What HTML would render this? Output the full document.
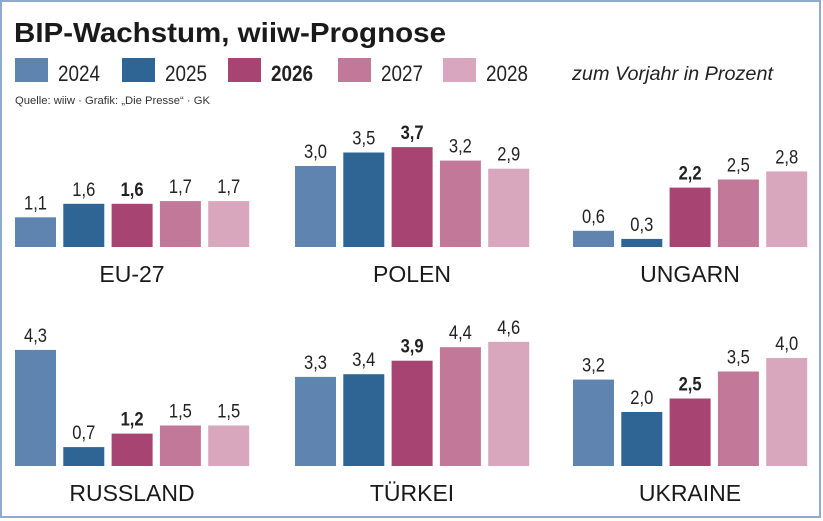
<!DOCTYPE html>
<html><head><meta charset="utf-8"><style>
html,body{margin:0;padding:0;background:#fff}
svg{display:block}
.n{font-family:"Liberation Sans Narrow","Liberation Sans",sans-serif}
</style></head><body>
<svg id="s" width="823" height="521" xmlns="http://www.w3.org/2000/svg">
<rect x="1" y="1" width="819" height="516" fill="#fff" stroke="#8eaad0" stroke-width="2"/>
<text x="14" y="42" font-family="Liberation Sans,sans-serif" font-weight="bold" font-size="28" fill="#1a1a1a" textLength="432" lengthAdjust="spacingAndGlyphs">BIP-Wachstum, wiiw-Prognose</text>
<text x="15" y="104" class="n" font-size="11" fill="#333" textLength="195" lengthAdjust="spacingAndGlyphs">Quelle: wiiw · Grafik: „Die Presse“ · GK</text>
<text x="572" y="80" class="n" font-style="italic" font-size="19" fill="#222" textLength="201" lengthAdjust="spacingAndGlyphs">zum Vorjahr in Prozent</text>
<g id="g"></g>
</svg>
<script>
const C=["#5f84b0","#2f6595","#a84472","#c17899","#d8a6bd"];
const Y=["2024","2025","2026","2027","2028"];
const LX=[15,122,228,338,443];
let h="";
for(let i=0;i<5;i++){
 h+=`<rect x="${LX[i]}" y="58" width="33" height="24" fill="${C[i]}"/>`;
 h+=`<text x="${LX[i]+43}" y="81" class="n" font-size="22" textLength="42" lengthAdjust="spacingAndGlyphs" ${i==2?'font-weight="bold"':''} fill="#222">${Y[i]}</text>`;
}
const P=[
 {x:15,b:247,n:"EU-27",v:[1.1,1.6,1.6,1.7,1.7]},
 {x:295,b:247,n:"POLEN",v:[3.0,3.5,3.7,3.2,2.9]},
 {x:573,b:247,n:"UNGARN",v:[0.6,0.3,2.2,2.5,2.8]},
 {x:15,b:466,n:"RUSSLAND",v:[4.3,0.7,1.2,1.5,1.5]},
 {x:295,b:466,n:"TÜRKEI",v:[3.3,3.4,3.9,4.4,4.6]},
 {x:573,b:466,n:"UKRAINE",v:[3.2,2.0,2.5,3.5,4.0]}];
for(const p of P){
 p.v.forEach((v,i)=>{
  const hh=v*27, x=p.x+i*48.3, t=p.b-hh;
  h+=`<rect x="${x}" y="${t}" width="41" height="${hh}" fill="${C[i]}"/>`;
  h+=`<text x="${x+20.5}" y="${t-8}" text-anchor="middle" class="n" font-size="19" textLength="23" lengthAdjust="spacingAndGlyphs" ${i==2?'font-weight="bold"':''} fill="#222">${v.toFixed(1).replace('.',',')}</text>`;
 });
 h+=`<text x="${p.x+117}" y="${p.b+35}" text-anchor="middle" font-family="Liberation Sans,sans-serif" font-size="23" fill="#1a1a1a">${p.n}</text>`;
}
document.getElementById("g").innerHTML=h;
</script>
</body></html>
